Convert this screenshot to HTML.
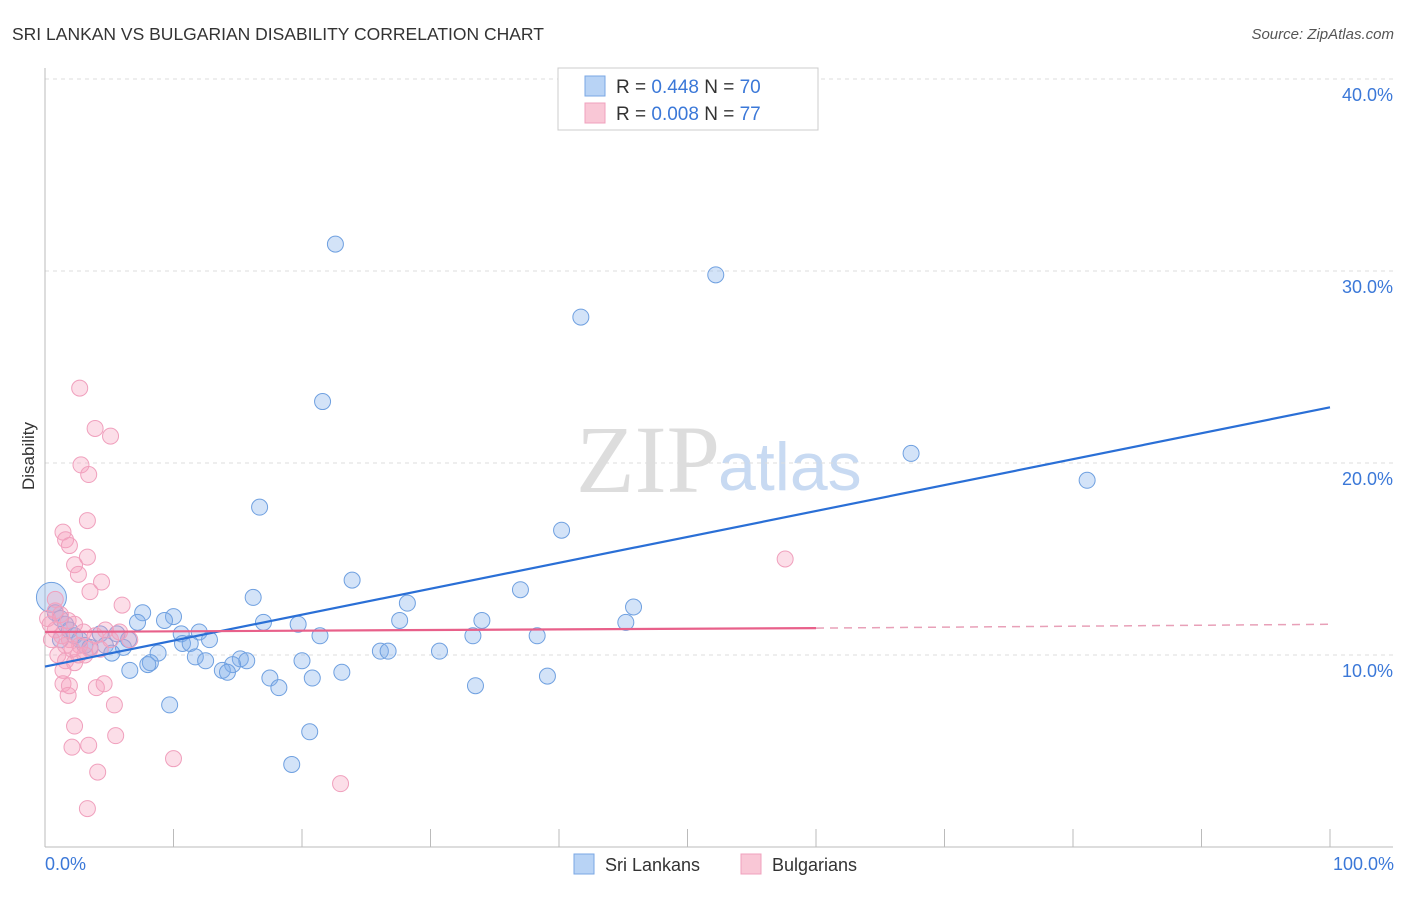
<!DOCTYPE html>
<html><head><meta charset="utf-8"><style>
body{margin:0;background:#fff;font-family:"Liberation Sans",sans-serif}
svg text{font-family:"Liberation Sans",sans-serif}
</style></head><body>
<svg id="c" width="1406" height="892" xmlns="http://www.w3.org/2000/svg">
<text x="12" y="40" font-size="17.5" fill="#333">SRI LANKAN VS BULGARIAN DISABILITY CORRELATION CHART</text>
<text x="1394" y="39" font-size="15" fill="#555" font-style="italic" text-anchor="end">Source: ZipAtlas.com</text>
<text x="720" y="492" font-size="96" fill="#ddd" font-family="Liberation Serif" text-anchor="end" style="font-family:'Liberation Serif',serif">ZIP</text>
<text x="718" y="490" font-size="68" fill="#c8daf2">atlas</text>
<g id="grid"></g><g id="pts"></g><g id="lines"></g>
<text x="34" y="456" font-size="17" fill="#333" text-anchor="middle" transform="rotate(-90 34 456)">Disability</text>
<text x="45" y="870" font-size="18" fill="#3b78d8">0.0%</text>
<text x="1394" y="870" font-size="18" fill="#3b78d8" text-anchor="end">100.0%</text>
<g>
<rect x="558" y="68" width="260" height="62" fill="#fff" stroke="#ccc"/>
<rect x="585" y="76" width="20" height="20" fill="#b8d3f5" stroke="#7aa7e4"/>
<rect x="585" y="103" width="20" height="20" fill="#f9c7d6" stroke="#f0a0bd"/>
<text x="616" y="93" font-size="19" fill="#333">R = <tspan fill="#3b78d8">0.448</tspan>   N = <tspan fill="#3b78d8">70</tspan></text>
<text x="616" y="120" font-size="19" fill="#333">R = <tspan fill="#3b78d8">0.008</tspan>   N = <tspan fill="#3b78d8">77</tspan></text>
</g>
<g><rect x="574" y="854" width="20" height="20" fill="#b8d3f5" stroke="#7aa7e4"/><text x="605" y="871" font-size="18" fill="#333">Sri Lankans</text></g>
<g><rect x="741" y="854" width="20" height="20" fill="#f9c7d6" stroke="#f0a0bd"/><text x="772" y="871" font-size="18" fill="#333">Bulgarians</text></g>
</svg>
<script>
const yTicks=[10,20,30,40];
const yTickLabels=["10.0%","20.0%","30.0%","40.0%"];
const blueX=[22.6,52.2,41.7,21.6,67.4,81.1,16.7,40.2,23.9,37.0,16.2,28.2,45.8,7.6,10.0,7.2,9.3,17.0,27.6,34.0,45.2,19.7,10.6,12.0,21.4,33.3,38.3,4.3,5.6,6.5,10.7,11.3,12.8,4.7,6.1,5.2,8.8,11.7,12.5,15.2,15.7,20.0,26.1,26.7,30.7,8.2,8.0,14.6,6.6,13.8,14.2,23.1,17.5,20.8,39.1,18.2,33.5,9.7,20.6,19.2,0.5,0.8,1.2,1.6,1.9,2.3,2.7,3.1,3.5,1.2];
const blueY=[31.4,29.8,27.6,23.2,20.5,19.1,17.7,16.5,13.9,13.4,13.0,12.7,12.5,12.2,12.0,11.7,11.8,11.7,11.8,11.8,11.7,11.6,11.1,11.2,11.0,11.0,11.0,11.1,11.1,10.8,10.6,10.6,10.8,10.5,10.4,10.1,10.1,9.9,9.7,9.8,9.7,9.7,10.2,10.2,10.2,9.6,9.5,9.5,9.2,9.2,9.1,9.1,8.8,8.8,8.9,8.3,8.4,7.4,6.0,4.3,13.0,12.2,11.9,11.6,11.3,11.0,10.8,10.5,10.4,10.8];
const pinkX=[2.7,3.9,5.1,2.8,3.4,3.3,1.4,1.6,1.9,3.3,2.3,2.6,4.4,3.5,6.0,57.6,0.8,1.2,1.8,2.3,0.8,1.3,1.9,2.7,3.5,4.3,1.0,1.6,2.3,3.1,5.1,6.6,3.9,4.7,5.8,0.5,0.4,1.4,1.4,1.8,1.9,4.0,4.6,5.4,5.5,2.3,2.1,3.4,4.1,10.0,23.0,3.3,1.6,2.1,2.6,3.0,0.2,0.8];
const pinkY=[23.9,21.8,21.4,19.9,19.4,17.0,16.4,16.0,15.7,15.1,14.7,14.2,13.8,13.3,12.6,15.0,12.3,12.1,11.8,11.6,11.3,11.0,10.8,10.5,10.3,10.3,10.0,9.7,9.6,10.0,10.8,10.8,11.0,11.3,11.2,10.8,11.6,9.2,8.5,7.9,8.4,8.3,8.5,7.4,5.8,6.3,5.2,5.3,3.9,4.6,3.3,2.0,10.5,10.3,10.0,11.2,11.9,12.9];
const blueFit=[9.4,22.9];
const pinkFit=[11.2,11.4,11.6];
const NS="http://www.w3.org/2000/svg";
const X=v=>45+v*12.85, Y=v=>847-v*19.2;
function mk(t,a,p){const e=document.createElementNS(NS,t);for(const k in a)e.setAttribute(k,a[k]);p.appendChild(e);return e;}
const g=document.getElementById('grid');
yTicks.forEach((t,i)=>{
 const l=mk('line',{x1:45,x2:1393,y1:Y(t),y2:Y(t),stroke:'#ddd','stroke-dasharray':'4,4'},g);
 
 
 const tx=mk('text',{x:1393,y:Y(t)+22,'font-size':18,fill:'#3b78d8','text-anchor':'end'},g);
 tx.textContent=yTickLabels[i];
 
 
});
const ax=mk('line',{x1:45,x2:1393,y1:847,y2:847,stroke:'#bbb'},g);


const ay=mk('line',{x1:45,x2:45,y1:68,y2:847,stroke:'#bbb'},g);


for(let i=1;i<=10;i++){const t=mk('line',{x1:X(i*10),x2:X(i*10),y1:829,y2:847,stroke:'#bbb'},g);
 
 }
const p=document.getElementById('pts');
blueX.forEach((x,i)=>{const c=mk('circle',{cx:X(x),cy:Y(blueY[i]),r:i==60?15:8,fill:'rgba(130,175,235,0.35)',stroke:'#6fa0e0','stroke-width':1},p);
 
 });
pinkX.forEach((x,i)=>{const c=mk('circle',{cx:X(x),cy:Y(pinkY[i]),r:8,fill:'rgba(245,160,190,0.35)',stroke:'#f0a0bd','stroke-width':1},p);
 
 });
const L=document.getElementById('lines');
const bl=mk('line',{x1:X(0),y1:Y(blueFit[0]),x2:X(100),y2:Y(blueFit[1]),stroke:'#2a6fd6','stroke-width':2.2},L);


const pl=mk('line',{x1:X(0),y1:Y(pinkFit[0]),x2:X(60),y2:Y(pinkFit[1]),stroke:'#e8608a','stroke-width':2.2},L);


const pd=mk('line',{x1:X(60),y1:Y(pinkFit[1]),x2:X(100),y2:Y(pinkFit[2]),stroke:'#e8a0b8','stroke-width':1.5,'stroke-dasharray':'8,6'},L);


</script>
</body></html>
